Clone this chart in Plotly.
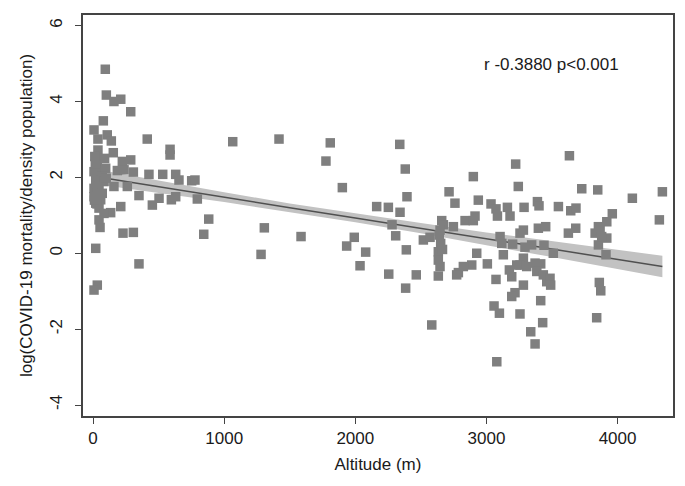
import plotly.graph_objects as go

# Altitude (m) of each point
altitude = [
    93, 101, 159, 211, 287, 78, 7, 37, 108, 139, 413, 587, 587, 37, 154, 20, 88, 223, 287,
    185, 236, 307, 426, 531, 630, 655, 752, 777, 159, 261, 350, 503, 452, 597, 630, 795,
    211, 134, 45, 53, 228, 307, 20, 350, 32, 7, 882, 844,
    32, 7, 58, 96, 70, 20, 83, 7, 45, 32, 7, 70, 20, 58, 45, 83, 17, 13, 100, 30, 10,
    1065, 1418, 1809, 1776, 1901, 2339, 2381, 2394, 2163, 2252, 2341, 2280, 2308, 2389,
    2519, 2570, 1992, 1934, 2079, 2036, 2255, 2465, 2384, 1306, 1281, 1586, 2583,
    3223, 2900, 3243, 2715, 2760, 2938, 3035, 3073, 3084, 3160, 3180, 3287, 3389, 3401,
    2837, 2900, 2913, 2659, 2672, 2646, 2748, 3396, 3452, 2651, 3104, 3117, 3256, 3282,
    3200, 3294, 3345, 3439, 2926, 3129, 2633, 2633, 2646, 2633, 3007, 3282, 3256, 3307,
    3175, 3193, 3231, 3371, 3414, 3384, 3434, 3460, 2888, 2824, 2786, 2773, 3073, 3282,
    3218, 3193, 3414, 3058, 3099, 3256, 3429, 3338, 3371, 3079, 2640, 2665,
    3633, 3727, 3849, 4113, 4342, 4319, 3549, 3643, 3683, 3681, 3625, 3960, 3918, 3854,
    3829, 3867, 3918, 3854, 3879, 3912, 3510, 3485, 3490, 3861, 3872, 3841,
]

# log(COVID-19 mortality/density population) of each point
log_mortality = [
    4.85, 4.17, 4.00, 4.06, 3.73, 3.49, 3.25, 3.01, 3.12, 2.96, 3.01, 2.74, 2.59, 2.72, 2.65, 2.50, 2.50, 2.42, 2.46,
    2.18, 2.20, 2.14, 2.08, 2.08, 2.08, 1.93, 1.91, 1.93, 1.76, 1.76, 1.52, 1.45, 1.27, 1.41, 1.49, 1.43,
    1.23, 1.07, 0.88, 0.68, 0.53, 0.55, 0.13, -0.28, -0.84, -0.97, 0.90, 0.50,
    2.28, 2.15, 2.18, 2.24, 2.02, 1.93, 1.89, 1.71, 1.76, 1.58, 1.49, 1.58, 1.32, 1.41, 1.19, 1.05, 2.36, 2.55, 1.98, 1.30, 1.40,
    2.94, 3.01, 2.91, 2.43, 1.73, 2.87, 2.22, 1.49, 1.23, 1.21, 1.08, 0.75, 0.46, 0.09,
    0.35, 0.42, 0.42, 0.19, 0.03, -0.33, -0.55, -0.57, -0.92, 0.67, -0.03, 0.44, -1.89,
    2.35, 2.02, 1.76, 1.62, 1.32, 1.40, 1.30, 1.17, 0.98, 1.21, 0.98, 1.21, 1.36, 1.25,
    0.86, 0.86, 0.98, 0.86, 0.75, 0.61, 0.70, 0.66, 0.70, 0.26, 0.44, 0.26, 0.53, 0.61,
    0.24, 0.16, 0.22, 0.21, 0.00, -0.04, 0.04, -0.18, -0.35, -0.60, -0.28, -0.13, -0.31, -0.35,
    -0.44, -0.62, -0.31, -0.26, -0.28, -0.48, -0.57, -0.75, -0.31, -0.35, -0.51, -0.57, -0.69, -0.84,
    -1.04, -1.14, -1.25, -1.39, -1.58, -1.60, -1.83, -2.07, -2.39, -2.86, 0.48, 0.10,
    2.57, 1.70, 1.67, 1.45, 1.62, 0.88, 1.23, 1.12, 1.19, 0.66, 0.53, 1.04, 0.83, 0.70,
    0.53, 0.61, 0.40, 0.22, 0.44, -0.04, 0.00, -0.66, -0.84, -0.77, -0.99, -1.70,
]

# Linear fit with 95% confidence band
fit_x = [0, 500, 1000, 1500, 2000, 2500, 3000, 3500, 4000, 4342]
fit_y = [2.03, 1.75, 1.48, 1.20, 0.93, 0.66, 0.38, 0.11, -0.16, -0.35]
ci_low = [1.83, 1.59, 1.35, 1.09, 0.815, 0.525, 0.21, -0.10, -0.41, -0.635]
ci_high = [2.23, 1.91, 1.61, 1.31, 1.045, 0.795, 0.55, 0.32, 0.09, -0.065]

x_ticks = [0, 1000, 2000, 3000, 4000]
y_ticks = [-4, -2, 0, 2, 4, 6]

stat_text = "r -0.3880 p<0.001"

fig = go.Figure()

fig.add_trace(go.Scatter(
    x=fit_x + fit_x[::-1], y=ci_high + ci_low[::-1],
    fill="toself", fillcolor="#c2c2c2", line=dict(width=0),
    mode="lines", hoverinfo="skip",
))
fig.add_trace(go.Scatter(
    x=fit_x, y=fit_y, mode="lines",
    line=dict(color="#505050", width=1.5), hoverinfo="skip",
))
fig.add_trace(go.Scatter(
    x=altitude, y=log_mortality, mode="markers",
    marker=dict(symbol="square", size=9.5, color="#7f7f7f", line=dict(width=0)),
))

font_family = "Liberation Sans, Arial, sans-serif"

fig.update_layout(
    width=685, height=486,
    margin=dict(l=83, r=12, t=15, b=70),
    plot_bgcolor="white", paper_bgcolor="white",
    showlegend=False,
    font=dict(family=font_family, size=17, color="#1a1a1a"),
    annotations=[dict(
        x=3497, y=4.97, xref="x", yref="y", text=stat_text,
        showarrow=False, font=dict(size=17, family=font_family, color="#1a1a1a"),
    )],
)

fig.update_xaxes(
    range=[-77, 4423], tickvals=x_ticks, ticktext=[str(v) for v in x_ticks],
    ticks="outside", ticklen=6, tickwidth=1.2, tickcolor="#444",
    showline=True, mirror=True, linecolor="#444", linewidth=1.5,
    showgrid=False, zeroline=False, automargin=False,
    title=dict(text="Altitude (m)", standoff=11, font=dict(size=17)),
)
fig.update_yaxes(
    range=[-4.29, 6.28], tickvals=y_ticks, ticktext=[str(v) for v in y_ticks],
    tickangle=-90, ticklabelstandoff=6,
    ticks="outside", ticklen=6, tickwidth=1.2, tickcolor="#444",
    showline=True, mirror=True, linecolor="#444", linewidth=1.5,
    showgrid=False, zeroline=False, automargin=False,
    title=dict(text="log(COVID-19 mortality/density population)", standoff=11, font=dict(size=17)),
)

fig.write_html(
    "out.html",
    config={"displayModeBar": False},
    post_script="document.body.style.margin='0';",
)
